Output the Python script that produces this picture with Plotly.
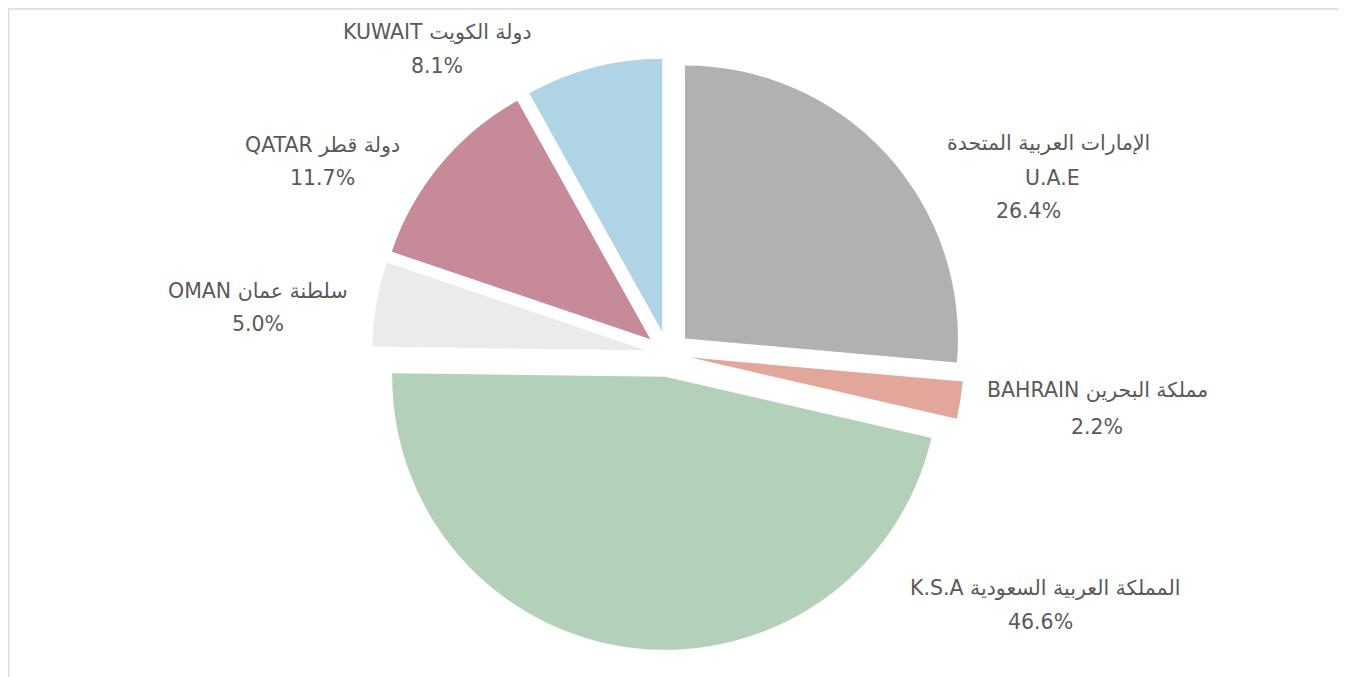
import plotly.graph_objects as go

# ---- data ----
names_ar = ["الإمارات العربية المتحدة", "مملكة البحرين", "المملكة العربية السعودية",
            "سلطنة عمان", "دولة قطر", "دولة الكويت"]
names_en = ["U.A.E", "BAHRAIN", "K.S.A", "OMAN", "QATAR", "KUWAIT"]
shares = [26.4, 2.2, 46.6, 5.0, 11.7, 8.1]
colors = ["#B0B1B3", "#E2A69A", "#B3D0B8", "#EBEBEB", "#C78A98", "#AED4E6"]

W, H = 1347, 677
OFF = 8  # page body margin
FONT = "DejaVu Sans"
TXT = "#595959"

def P(x, y):
    return (x - OFF) / W, 1 - (y - OFF) / H

fig = go.Figure(go.Pie(
    labels=names_en,
    values=shares,
    sort=False,
    direction="clockwise",
    rotation=0,
    pull=[0.084] * len(shares),
    marker=dict(colors=colors, line=dict(width=0)),
    textinfo="none",
    hoverinfo="label+percent",
    showlegend=False,
    domain=dict(x=[0, P(1328, 0)[0]], y=[P(0, 650)[1], P(0, 58)[1]]),
))

# label blocks (pixel anchors of label centres)
label_pos = {
    "U.A.E": [(1048, 143), (1052, 178), (1028, 211)],
    "BAHRAIN": [(1097, 390), (1097, 427)],
    "K.S.A": [(1045, 588), (1040, 622)],
    "OMAN": [(258, 291), (258, 324)],
    "QATAR": [(322, 145), (322, 178)],
    "KUWAIT": [(438, 32), (437, 66)],
}

annotations = []
for ar, en, v in zip(names_ar, names_en, shares):
    pct = f"{v:.1f}%"
    if en == "U.A.E":
        lines = [ar, en, pct]
    else:
        lines = [f"{en} {ar}", pct]
    for (x, y), t in zip(label_pos[en], lines):
        px, py = P(x, y)
        annotations.append(dict(
            x=px, y=py, xref="paper", yref="paper", text=t, showarrow=False,
            xanchor="center", yanchor="middle",
            font=dict(family=FONT, size=20.5, color=TXT),
        ))

bx0, by1 = P(8.5, 9)
bx1, by0 = P(1344, 700)
fig.update_layout(
    width=W, height=H,
    margin=dict(l=0, r=0, t=0, b=0),
    paper_bgcolor="white",
    plot_bgcolor="white",
    annotations=annotations,
    shapes=[dict(type="rect", xref="paper", yref="paper",
                 x0=bx0, x1=bx1, y0=by0, y1=by1,
                 line=dict(color="#D9D9D9", width=1.5), fillcolor="rgba(0,0,0,0)",
                 layer="below")],
)

fig.write_html("out.html")
